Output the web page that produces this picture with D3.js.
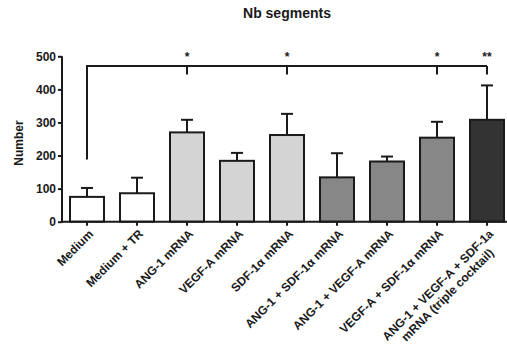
<!DOCTYPE html>
<html><head><meta charset="utf-8">
<script src="https://cdn.jsdelivr.net/npm/d3@7"></script>
<style>body{margin:0;background:#fff}svg{display:block}text{font-family:Arial,"Liberation Sans",sans-serif}</style>
</head><body>
<svg id="c" width="507" height="358"></svg>
<script>
const categories = ["Medium","Medium + TR","ANG-1 mRNA","VEGF-A mRNA","SDF-1\u03b1 mRNA","ANG-1 + SDF-1\u03b1 mRNA","ANG-1 + VEGF-A mRNA","VEGF-A + SDF-1\u03b1 mRNA","ANG-1 + VEGF-A + SDF-1a|mRNA (triple cocktail)"];
const means = [75, 86, 270, 184, 262, 134, 182, 254, 308];
const errors = [27, 47, 38, 24, 64, 73, 15, 48, 104];
const fills = ["#ffffff","#ffffff","#d4d4d4","#d4d4d4","#d4d4d4","#878787","#878787","#878787","#333333"];
const yTicks = [0,100,200,300,400,500];
const sigIdx = [2,4,7,8];
const sigLabels = ["*","*","*","**"];
const bracketLevel = 471;
const bracketLeftBottom = 188;

const svg = d3.select("#c");
const x = d3.scaleBand().domain(d3.range(categories.length)).range([62,512]).paddingInner(0.32).paddingOuter(0.16);
const y = d3.scaleLinear().domain([0,500]).range([221.7,56.3]);

// bars
svg.append("g").selectAll("rect").data(means).join("rect")
  .attr("x",(d,i)=>x(i)).attr("y",d=>y(d)).attr("width",x.bandwidth()).attr("height",d=>y(0)-y(d))
  .attr("fill",(d,i)=>fills[i]).attr("stroke","#1a1a1a").attr("stroke-width",2);
// error bars
const eg = svg.append("g").attr("stroke","#1a1a1a").attr("stroke-width",2);
means.forEach((m,i)=>{
  const cx = x(i)+x.bandwidth()/2;
  eg.append("line").attr("x1",cx).attr("x2",cx).attr("y1",y(m)).attr("y2",y(m+errors[i]));
  eg.append("line").attr("x1",cx-6).attr("x2",cx+6).attr("y1",y(m+errors[i])).attr("y2",y(m+errors[i]));
});

// y axis
const ya = svg.append("g").attr("transform","translate(62,0)")
  .call(d3.axisLeft(y).tickValues(yTicks).tickSize(4).tickPadding(2));
ya.select(".domain").attr("stroke","#1a1a1a").attr("stroke-width",2).attr("d","M0,"+y(500)+"V"+(y(0)+1));
ya.selectAll(".tick line").attr("stroke","#1a1a1a").attr("stroke-width",2);
ya.selectAll(".tick text").attr("font-size",12).attr("font-weight","bold").attr("fill","#1a1a1a");

// x axis
const xa = svg.append("g").attr("transform","translate(0,"+y(0)+")")
  .call(d3.axisBottom(x).tickSize(4).tickFormat(""));
xa.select(".domain").attr("stroke","#1a1a1a").attr("stroke-width",2).attr("d","M61,0H507");
xa.selectAll(".tick line").attr("stroke","#1a1a1a").attr("stroke-width",2);

// x labels
const lg = svg.append("g");
categories.forEach((c,i)=>{
  const cx = x(i)+x.bandwidth()/2;
  const lines = c.split("|");
  const t = lg.append("text").attr("transform","translate("+(cx+4)+","+(y(0)+10)+") rotate(-45)")
    .attr("text-anchor","end").attr("font-size",12).attr("font-weight","bold").attr("fill","#1a1a1a");
  const spans = lines.map((l,j)=> t.append("tspan").attr("x",0).attr("dy", j===0 ? "0.35em" : "1.15em").text(l));
  if (spans.length > 1) {
    const w0 = spans[0].node().getComputedTextLength();
    spans.forEach((s,j)=>{ if (j>0) { const w = s.node().getComputedTextLength(); s.attr("x", -(w0-w)/2); } });
  }
});

// y label
svg.append("text").attr("transform","translate(23,143) rotate(-90)").attr("text-anchor","middle")
  .attr("font-size",12).attr("font-weight","bold").attr("fill","#1a1a1a").text("Number");
// title
svg.append("text").attr("x",287).attr("y",18).attr("text-anchor","middle")
  .attr("font-size",14).attr("font-weight","bold").attr("fill","#1a1a1a").text("Nb segments");

// significance bracket
const bg = svg.append("g").attr("stroke","#1a1a1a").attr("stroke-width",2).attr("fill","none");
const xc = i=>x(i)+x.bandwidth()/2;
bg.append("path").attr("d","M"+xc(0)+","+y(bracketLeftBottom)+"V"+y(bracketLevel)+"H"+xc(8));
sigIdx.forEach(i=>{
  bg.append("line").attr("x1",xc(i)).attr("x2",xc(i)).attr("y1",y(bracketLevel)).attr("y2",y(bracketLevel)+8.6);
});
svg.append("g").selectAll("text").data(sigIdx).join("text")
  .attr("x",i=>xc(i)).attr("y",y(bracketLevel)-5).attr("text-anchor","middle")
  .attr("font-size",12).attr("font-weight","bold").attr("fill","#1a1a1a").text((d,k)=>sigLabels[k]);
</script>
</body></html>
